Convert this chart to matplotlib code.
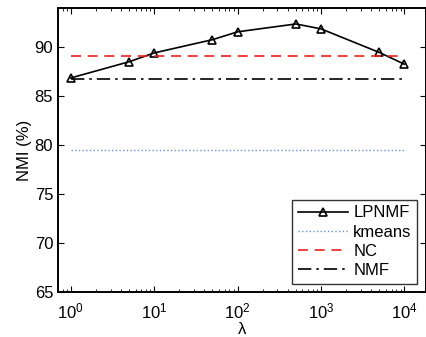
import matplotlib
matplotlib.use("Agg")
import matplotlib.pyplot as plt

plt.rcParams['font.family'] = ['Liberation Sans', 'DejaVu Sans']

# lambda values and NMI (%) results
lam = [1, 5, 10, 50, 100, 500, 1000, 5000, 10000]
lpnmf = [86.8, 88.45, 89.35, 90.7, 91.5, 92.3, 91.8, 89.4, 88.2]
kmeans = 79.5
nc = 89.05
nmf = 86.7

fig = plt.figure(figsize=(4.27, 3.37), dpi=100)
ax = fig.add_axes([0.136, 0.1335, 0.861, 0.842])

ax.plot(lam, lpnmf, color="black", linewidth=1.2, marker="^", markersize=5.5,
        markerfacecolor="none", markeredgewidth=1.2, label="LPNMF")
ax.plot([lam[0], lam[-1]], [kmeans, kmeans], linestyle=":", color="#6f8fd0",
        linewidth=1.0, label="kmeans")
ax.plot([lam[0], lam[-1]], [nc, nc], linestyle=(0, (6, 4)), color="#ee2020",
        linewidth=1.2, label="NC")
ax.plot([lam[0], lam[-1]], [nmf, nmf], linestyle=(0, (8, 3, 1.5, 3)), color="black",
        linewidth=1.2, label="NMF")

ax.set_xscale("log")
ax.set_xlim(0.705, 18000)
ax.set_ylim(65, 93.9)
ax.set_yticks([65, 70, 75, 80, 85, 90])
ax.set_xticks([1, 10, 100, 1000, 10000])

ax.tick_params(which="both", direction="in", top=True, right=True, labelsize=12)
ax.tick_params(which="major", length=4)
ax.tick_params(which="minor", length=2)
ax.tick_params(axis="x", which="major", pad=7)
for s in ax.spines.values():
    s.set_linewidth(1.4)

ax.set_xlabel("λ", fontsize=12, labelpad=0)
ax.set_ylabel("NMI (%)", fontsize=12, labelpad=2)

leg = ax.legend(loc="lower right", fontsize=12, frameon=True, fancybox=False,
                edgecolor="black", handlelength=3.0, borderaxespad=0.5,
                labelspacing=0.25, handletextpad=0.3, borderpad=0.35)
leg.get_frame().set_linewidth(1.0)

fig.savefig("out.png", dpi=100)
